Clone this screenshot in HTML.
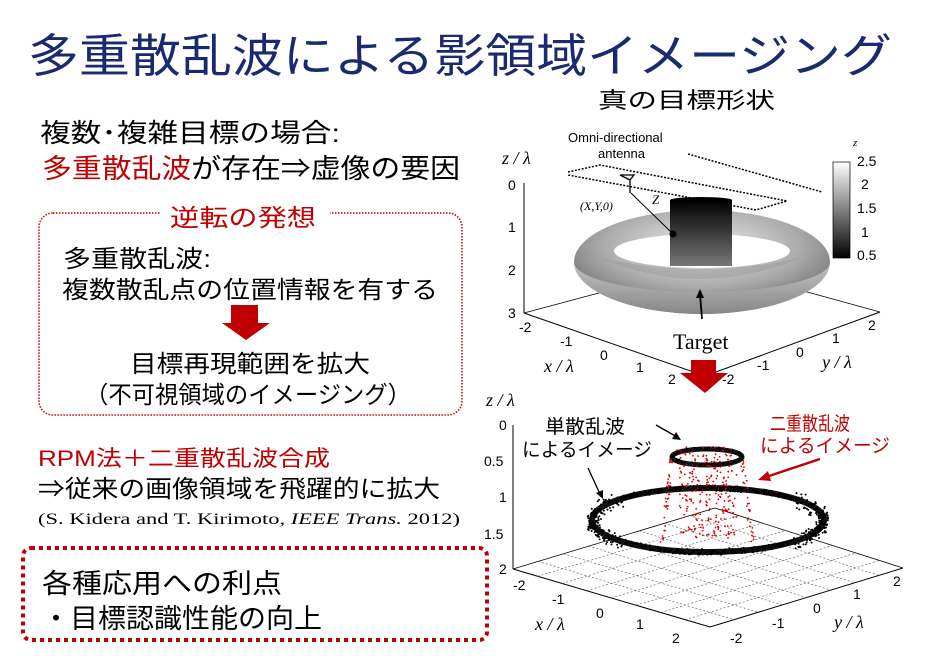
<!DOCTYPE html>
<html><head><meta charset="utf-8">
<style>
html,body{margin:0;padding:0;background:#fff;}
svg{display:block;}
.j{font-family:"Liberation Sans","Noto Sans CJK JP",sans-serif;}
.s{font-family:"Liberation Serif",serif;}
.a{font-family:"Liberation Sans",sans-serif;}
</style></head><body>
<svg id="sv" width="940" height="656" viewBox="0 0 940 656" xmlns="http://www.w3.org/2000/svg">
<defs>
<linearGradient id="cb" x1="0" y1="0" x2="0" y2="1"><stop offset="0" stop-color="#fff"/><stop offset="1" stop-color="#000"/></linearGradient>
<radialGradient id="tor" cx="0.5" cy="0.35" r="0.65"><stop offset="0" stop-color="#eee"/><stop offset="0.6" stop-color="#aaa"/><stop offset="1" stop-color="#6a6a6a"/></radialGradient>
<linearGradient id="cyl" x1="0" y1="0" x2="0" y2="1"><stop offset="0" stop-color="#000"/><stop offset="1" stop-color="#777"/></linearGradient>
<linearGradient id="tf" x1="0" y1="0" x2="0" y2="1"><stop offset="0" stop-color="#c8c8c8"/><stop offset="1" stop-color="#8a8a8a"/></linearGradient>
</defs>
<text class="j" x="28" y="72" font-size="46" fill="#1a2a6e" textLength="864" lengthAdjust="spacingAndGlyphs">多重散乱波による影領域イメージング</text>
<text class="j" x="40" y="142" font-size="26" fill="#000" textLength="300" lengthAdjust="spacingAndGlyphs">複数･複雑目標の場合:</text>
<text class="j" x="42" y="178" font-size="27" fill="#000" textLength="418" lengthAdjust="spacingAndGlyphs"><tspan fill="#c00000">多重散乱波</tspan>が存在⇒虚像の要因</text>
<rect x="39" y="213" width="423" height="202" rx="14" fill="none" stroke="#c00000" stroke-width="1.5" stroke-dasharray="1.5 1.5"/>
<rect x="160" y="200" width="170" height="30" fill="#fff"/>
<text class="j" x="170" y="226" font-size="24" fill="#c00000" textLength="146" lengthAdjust="spacingAndGlyphs">逆転の発想</text>
<text class="j" x="63" y="267" font-size="24" textLength="148" lengthAdjust="spacingAndGlyphs">多重散乱波:</text>
<text class="j" x="62" y="298" font-size="24" textLength="376" lengthAdjust="spacingAndGlyphs">複数散乱点の位置情報を有する</text>
<polygon points="231,305 258,305 258,323 270,323 246,340 222,323 231,323" fill="#c00000"/>
<text class="j" x="130" y="372" font-size="24" textLength="240" lengthAdjust="spacingAndGlyphs">目標再現範囲を拡大</text>
<text class="j" x="85" y="403" font-size="24" textLength="326" lengthAdjust="spacingAndGlyphs">（不可視領域のイメージング）</text>
<text class="j" x="38" y="466" font-size="22" fill="#c00000" textLength="292" lengthAdjust="spacingAndGlyphs">RPM法＋二重散乱波合成</text>
<text class="j" x="38" y="497" font-size="24" textLength="402" lengthAdjust="spacingAndGlyphs">⇒従来の画像領域を飛躍的に拡大</text>
<text class="s" x="38" y="524" font-size="16" textLength="422" lengthAdjust="spacingAndGlyphs">(S. Kidera and T. Kirimoto, <tspan font-style="italic">IEEE Trans.</tspan> 2012)</text>
<rect x="23" y="548" width="464" height="92" rx="8" fill="none" stroke="#c00000" stroke-width="4" stroke-dasharray="4 4"/>
<text class="j" x="42" y="593" font-size="27" textLength="240" lengthAdjust="spacingAndGlyphs">各種応用への利点</text>
<text class="j" x="42" y="628" font-size="27" textLength="280" lengthAdjust="spacingAndGlyphs">・目標認識性能の向上</text>

<text class="j" x="598" y="108" font-size="22" textLength="177" lengthAdjust="spacingAndGlyphs">真の目標形状</text>
<text class="s" x="502" y="164" font-size="18" font-style="italic">z / λ</text>
<g class="a" font-size="14">
<text x="508" y="190">0</text><text x="508" y="232">1</text><text x="508" y="275">2</text><text x="508" y="318">3</text>
</g>
<line x1="524" y1="183" x2="524" y2="313" stroke="#000"/>
<polyline points="524,313 705,376 880,312" fill="none" stroke="#000"/>
<line x1="524" y1="313" x2="610" y2="290" stroke="#000" stroke-width="0.7"/>
<line x1="880" y1="312" x2="800" y2="290" stroke="#000" stroke-width="0.7"/>
<g class="a" font-size="14">
<text x="519" y="332">-2</text><text x="560" y="346">-1</text><text x="600" y="360">0</text><text x="636" y="372">1</text><text x="668" y="384">2</text>
<text x="722" y="384">-2</text><text x="757" y="370">-1</text><text x="796" y="357">0</text><text x="832" y="343">1</text><text x="868" y="330">2</text>
</g>
<text class="s" x="544" y="372" font-size="18" font-style="italic">x / λ</text>
<text class="s" x="822" y="368" font-size="18" font-style="italic">y / λ</text>
<g stroke="#000" stroke-width="1.5" stroke-dasharray="2 1.5" fill="none">
<polyline points="568,172 600,165 787,201 756,210 568,175"/>
<line x1="688" y1="154" x2="822" y2="192"/>
</g>
<ellipse cx="702" cy="262" rx="128" ry="52" fill="url(#tor)"/>
<ellipse cx="702" cy="251" rx="88" ry="17" fill="#fff"/>
<rect x="670" y="200" width="62" height="66" fill="url(#cyl)"/>
<ellipse cx="701" cy="200" rx="31" ry="3" fill="#000"/>
<path d="M574,262 A128,52 0 0 0 830,262 A128,30 0 0 1 574,262 Z" fill="url(#tf)" opacity="0.9"/>
<path d="M600,258 Q700,280 800,258 Q700,300 600,258Z" fill="#999" opacity="0.5"/>
<g stroke="#000" fill="none" stroke-width="1.3">
<path d="M620,175 L630,180 L634,175 Z M630,180 L630,193"/>
</g>
<line x1="631" y1="193" x2="672" y2="233" stroke="#000" stroke-width="1"/>
<circle cx="673" cy="234" r="3.5" fill="#000"/>
<text class="s" x="580" y="210" font-size="12" font-style="italic">(X,Y,0)</text>
<text class="s" x="652" y="204" font-size="13" font-style="italic">Z</text>
<text class="a" x="568" y="142" font-size="13">Omni-directional</text>
<text class="a" x="598" y="158" font-size="13">antenna</text>
<rect x="833" y="162" width="17" height="96" fill="url(#cb)" stroke="#000" stroke-width="0.7"/>
<text class="s" x="853" y="146" font-size="11" font-style="italic">z</text>
<g class="a" font-size="14">
<text x="857" y="166">2.5</text><text x="861" y="189">2</text><text x="857" y="213">1.5</text><text x="861" y="237">1</text><text x="857" y="260">0.5</text>
</g>
<line x1="702" y1="319" x2="700" y2="294" stroke="#000" stroke-width="1.8"/>
<polygon points="696,298 700,289 704,298" fill="#000"/>
<text class="s" x="673" y="349" font-size="22">Target</text>
<polygon points="691,360 716,360 716,373 728,373 705,393 680,373 691,373" fill="#c00000"/>

<text class="s" x="486" y="406" font-size="18" font-style="italic">z / λ</text>
<g class="a" font-size="14">
<text x="499" y="430">0</text><text x="484" y="466">0.5</text><text x="499" y="502">1</text><text x="484" y="539">1.5</text><text x="499" y="574">2</text>
</g>
<line x1="513" y1="425" x2="513" y2="569" stroke="#000"/>
<polyline points="513,569 710,627 903,568" fill="none" stroke="#000"/>
<line x1="513" y1="569" x2="715" y2="508" stroke="#000" stroke-width="0.8"/>
<line x1="715" y1="508" x2="903" y2="568" stroke="#000" stroke-width="0.8"/>
<g stroke="#555" stroke-width="0.6" stroke-dasharray="2 2" fill="none" id="grid"></g>
<g class="a" font-size="14">
<text x="513" y="590">-2</text><text x="552" y="604">-1</text><text x="596" y="618">0</text><text x="636" y="629">1</text><text x="672" y="643">2</text>
<text x="730" y="643">-2</text><text x="772" y="628">-1</text><text x="813" y="613">0</text><text x="853" y="599">1</text><text x="893" y="586">2</text>
</g>
<text class="s" x="535" y="630" font-size="18" font-style="italic">x / λ</text>
<text class="s" x="834" y="628" font-size="18" font-style="italic">y / λ</text>
<ellipse cx="708" cy="520" rx="116" ry="32" fill="none" stroke="#111" stroke-width="6"/>
<ellipse cx="707" cy="457" rx="35" ry="8" fill="none" stroke="#111" stroke-width="5"/>
<g id="dots" fill="#e00000"></g>
<g id="bdots" fill="#000"></g>
<text class="j" x="545" y="433" font-size="19" textLength="80" lengthAdjust="spacingAndGlyphs">単散乱波</text>
<text class="j" x="522" y="456" font-size="19" textLength="130" lengthAdjust="spacingAndGlyphs">によるイメージ</text>
<text class="j" x="770" y="430" font-size="19" fill="#c00000" textLength="80" lengthAdjust="spacingAndGlyphs">二重散乱波</text>
<text class="j" x="760" y="452" font-size="19" fill="#c00000" textLength="130" lengthAdjust="spacingAndGlyphs">によるイメージ</text>
<line x1="656" y1="425" x2="677" y2="437" stroke="#000" stroke-width="1.3"/>
<polygon points="681,440 672,439 676,432" fill="#000"/>
<line x1="588" y1="468" x2="600" y2="494" stroke="#000" stroke-width="1.3"/>
<polygon points="603,499 596,493 603,490" fill="#000"/>
<line x1="820" y1="459" x2="766" y2="477" stroke="#c00000" stroke-width="2.5"/>
<polygon points="758,480 768,471 771,481" fill="#c00000"/>
</svg>
<script>
(function(){
var NS="http://www.w3.org/2000/svg";
var s=12345;function r(){s=(s*16807)%2147483647;return s/2147483647;}
var g=document.getElementById('grid');
function ln(a,b,c,d){var l=document.createElementNS(NS,'line');l.setAttribute('x1',a);l.setAttribute('y1',b);l.setAttribute('x2',c);l.setAttribute('y2',d);g.appendChild(l);}
var L=[513,569],F=[710,627],R=[903,568],B=[715,508];
for(var i=1;i<8;i++){var t=i/8;
ln(L[0]+(F[0]-L[0])*t,L[1]+(F[1]-L[1])*t,B[0]+(R[0]-B[0])*t,B[1]+(R[1]-B[1])*t);
ln(L[0]+(B[0]-L[0])*t,L[1]+(B[1]-L[1])*t,F[0]+(R[0]-F[0])*t,F[1]+(R[1]-F[1])*t);}
var d=document.getElementById('dots');
function c(p,x,y,rr){var e=document.createElementNS(NS,'circle');e.setAttribute('cx',x);e.setAttribute('cy',y);e.setAttribute('r',rr);p.appendChild(e);}
for(var i=0;i<260;i++){var y=447+r()*92;var x=680+r()*56+(r()-0.5)*8;c(d,x,y,0.9);}
for(var i=0;i<80;i++){var f=r();var y=457+r()*85;var left=r()<0.5;c(d,(left?672-(y-457)*0.12:742+(y-457)*0.12)+(r()-0.5)*4,y,0.9);}
var b=document.getElementById('bdots');
for(var i=0;i<800;i++){var a=r()*6.283;var ca=Math.cos(a);var rx=116+(r()-0.5)*10,ry=32+(r()-0.5)*6;var extra=Math.abs(ca)>0.75?(r()*14-6):0;c(b,708+rx*ca,520+ry*Math.sin(a)+extra,1);}
for(var i=0;i<80;i++){var a=r()*6.283;c(b,707+35*Math.cos(a)+(r()-0.5)*4,457+8*Math.sin(a)+(r()-0.5)*4,1);}
})();
</script>
</body></html>
